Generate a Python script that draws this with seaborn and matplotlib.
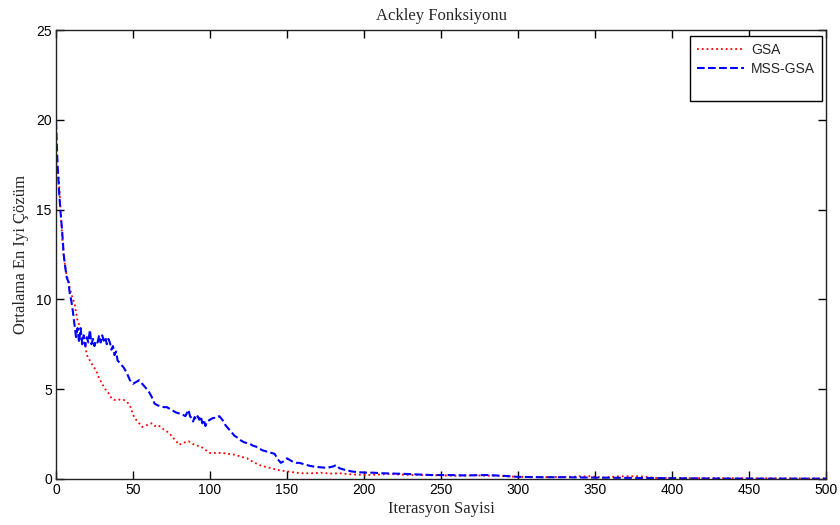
import pandas as pd
import numpy as np
import matplotlib
matplotlib.use("Agg")
import matplotlib.pyplot as plt
import seaborn as sns

# GSA (red, dotted) - iteration / mean best solution
gsa_iter = [0, 1, 2, 3, 4, 5, 6, 7, 8, 9, 10, 11, 12, 13, 14, 15, 16, 17, 18, 19,
            20, 22, 24, 26, 28, 30, 32, 34, 36, 38, 40, 42, 44, 46, 48, 50, 51, 52, 54, 56,
            58, 60, 62, 64, 66, 68, 70, 72, 74, 76, 78, 80, 82, 84, 86, 88, 90, 92, 94, 96,
            98, 100, 104, 108, 112, 116, 120, 124, 128, 132, 136, 140, 144, 148, 152, 156, 160, 166, 172, 178,
            184, 190, 196, 202, 210, 217, 225, 232, 240, 250, 260, 270, 285, 300, 315, 334, 340, 347, 355, 366,
            379, 390, 410, 430, 450, 470, 500]
gsa_vals = [17.6, 17.4, 16.5, 15.0, 13.5, 12.4, 11.8, 11.3, 11.1, 10.6, 10.3, 10.0, 9.8, 9.3, 8.8, 8.6, 8.1, 7.8, 7.6, 7.5,
            6.9, 6.6, 6.3, 6.05, 5.6, 5.3, 5.0, 4.8, 4.5, 4.4, 4.45, 4.4, 4.4, 4.3, 4.1, 3.6, 3.4, 3.3, 3.1, 2.9,
            2.95, 3.05, 3.1, 2.95, 3.0, 2.9, 2.75, 2.65, 2.5, 2.3, 2.1, 1.9, 2.0, 2.05, 2.1, 2.0, 1.9, 1.85, 1.8, 1.7,
            1.55, 1.45, 1.45, 1.45, 1.4, 1.35, 1.25, 1.15, 0.95, 0.78, 0.68, 0.6, 0.5, 0.45, 0.4, 0.35, 0.32, 0.32, 0.35, 0.3,
            0.32, 0.27, 0.24, 0.22, 0.25, 0.28, 0.24, 0.22, 0.22, 0.2, 0.18, 0.2, 0.18, 0.12, 0.1, 0.12, 0.15, 0.15, 0.08, 0.15,
            0.15, 0.06, 0.05, 0.05, 0.04, 0.04, 0.03]

# MSS-GSA (blue, dashed)
mss_iter = [0, 1, 2, 3, 4, 5, 6, 7, 8, 9, 10, 11, 12, 13, 14, 15, 16, 17, 18, 19,
            20, 21, 22, 23, 24, 25, 26, 27, 28, 29, 30, 31, 32, 33, 34, 35, 36, 37, 38, 39,
            40, 42, 44, 46, 48, 50, 52, 54, 56, 58, 60, 62, 64, 66, 68, 70, 72, 74, 76, 78,
            80, 82, 84, 86, 87, 88, 89, 90, 91, 92, 93, 94, 95, 96, 97, 98, 100, 102, 104, 106,
            108, 110, 112, 114, 116, 118, 120, 122, 124, 126, 128, 130, 132, 134, 136, 138, 140, 142, 144, 146,
            148, 150, 152, 154, 156, 158, 160, 164, 168, 172, 176, 180, 182, 184, 188, 192, 196, 200, 206, 212,
            220, 228, 236, 244, 255, 265, 280, 290, 300, 315, 330, 345, 360, 380, 400, 420, 450, 480, 500]
mss_vals = [19.9, 17.5, 16.0, 14.8, 13.8, 12.5, 11.8, 11.2, 11.0, 10.3, 9.9, 9.3, 8.6, 7.9, 8.4, 7.6, 8.4, 7.5, 8.0, 7.4,
            7.9, 7.6, 8.3, 7.5, 7.8, 7.4, 7.7, 7.6, 8.0, 7.6, 8.0, 7.7, 7.9, 7.5, 7.8, 7.6, 7.2, 7.4, 6.9, 7.1,
            6.6, 6.4, 6.2, 5.9, 5.5, 5.3, 5.4, 5.5, 5.3, 5.1, 4.9, 4.6, 4.2, 4.1, 4.05, 4.0, 4.0, 3.9, 3.8, 3.7,
            3.65, 3.6, 3.5, 3.85, 3.5, 3.4, 3.2, 3.45, 3.3, 3.5, 3.3, 3.5, 3.1, 3.3, 2.95, 3.2, 3.3, 3.4, 3.4, 3.5,
            3.3, 3.0, 2.8, 2.6, 2.4, 2.3, 2.15, 2.05, 2.0, 1.95, 1.85, 1.8, 1.7, 1.6, 1.55, 1.5, 1.45, 1.4, 1.1, 0.9,
            1.0, 1.15, 1.05, 0.95, 0.9, 0.9, 0.85, 0.75, 0.68, 0.65, 0.62, 0.7, 0.78, 0.6, 0.5, 0.42, 0.38, 0.36, 0.35, 0.32,
            0.3, 0.28, 0.25, 0.22, 0.22, 0.2, 0.22, 0.18, 0.12, 0.1, 0.1, 0.08, 0.07, 0.06, 0.04, 0.03, 0.02, 0.02, 0.02]

x_ticks = [0, 50, 100, 150, 200, 250, 300, 350, 400, 450, 500]
y_ticks = [0, 5, 10, 15, 20, 25]


def main():
    sns.set_style("ticks")
    plt.rcParams['font.family'] = ['Liberation Sans', 'DejaVu Sans']

    fig = plt.figure(figsize=(8.4, 5.25), dpi=100)
    ax = fig.add_axes([56 / 840, 1 - 479 / 525, 770 / 840, 449 / 525])

    sns.lineplot(x=gsa_iter, y=gsa_vals, ax=ax, color='red', linestyle=':',
                 linewidth=1.3, label='GSA')
    sns.lineplot(x=mss_iter, y=mss_vals, ax=ax, color='blue', linestyle='--',
                 linewidth=1.5, label='MSS-GSA')

    ax.set_xlim(0, 500)
    ax.set_ylim(0, 25)
    ax.set_xticks(x_ticks)
    ax.set_yticks(y_ticks)
    ax.tick_params(direction='in', top=True, right=True, length=5.5, width=1,
                   labelsize=10, colors='black', pad=3)
    for s in ax.spines.values():
        s.set_color('#222222')
        s.set_linewidth(1)

    serif = ['Liberation Serif', 'DejaVu Serif']
    ax.set_title('Ackley Fonksiyonu', family=serif, fontsize=12, pad=7)
    ax.set_xlabel('Iterasyon Sayisi', family=serif, fontsize=12, labelpad=3)
    ax.set_ylabel('Ortalama En Iyi Çözüm', family=serif, fontsize=12, labelpad=5)

    # legend with a blank row at the bottom, like the original
    handles, labels = ax.get_legend_handles_labels()
    handles.append(plt.Line2D([], [], color='none'))
    labels.append(' ')
    leg = ax.legend(handles, labels, loc='upper right', bbox_to_anchor=(0.995, 0.987),
                    borderaxespad=0, fancybox=False, framealpha=1, edgecolor='black',
                    fontsize=10, handlelength=3.4, handletextpad=0.5, labelspacing=0.35,
                    borderpad=0.5)
    leg.get_frame().set_linewidth(1)

    fig.savefig('out.png', dpi=100)


if __name__ == '__main__':
    main()
